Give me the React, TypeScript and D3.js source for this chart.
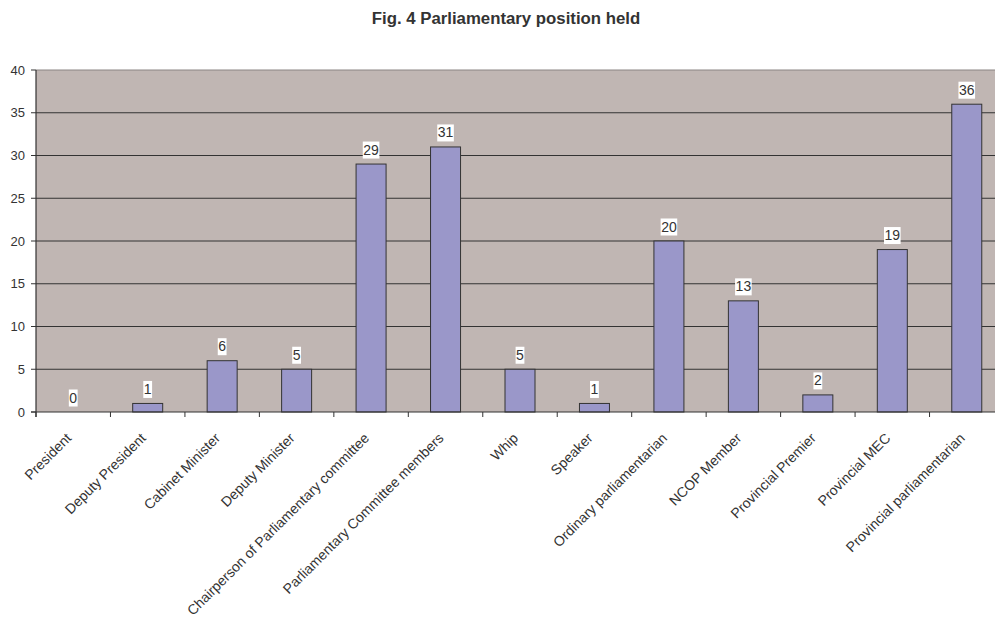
import React from "react";
import * as d3 from "d3";

const categories = [
  "President",
  "Deputy President",
  "Cabinet Minister",
  "Deputy Minister",
  "Chairperson of Parliamentary committee",
  "Parliamentary Committee members",
  "Whip",
  "Speaker",
  "Ordinary parliamentarian",
  "NCOP Member",
  "Provincial Premier",
  "Provincial MEC",
  "Provincial parliamentarian",
];
const values = [0, 1, 6, 5, 29, 31, 5, 1, 20, 13, 2, 19, 36];
const yTicks = [0, 5, 10, 15, 20, 25, 30, 35, 40];
const title = "Fig. 4 Parliamentary position held";

const W = 995;
const H = 618;
const left = 36;
const right = 1004;
const top = 70;
const bottom = 412;

export default function App() {
  const x = d3.scaleBand<string>().domain(categories).range([left, right]);
  const y = d3.scaleLinear().domain([0, 40]).range([bottom, top]);
  const bw = 30;
  const font = "Liberation Sans, Arial, sans-serif";
  return (
    <svg width={W} height={H} style={{ position: "absolute", left: 0, top: 0 }} fontFamily={font}>
      <text x={506} y={24} textAnchor="middle" fontSize={16.8} fontWeight="bold" fill="#333">
        {title}
      </text>
      <rect x={left} y={top} width={right - left} height={bottom - top} fill="#C0B6B3" />
      <line x1={left} x2={right} y1={top} y2={top} stroke="#8a8483" strokeWidth={1} />
      {yTicks.slice(1, -1).map((t) => (
        <line key={t} x1={left} x2={right} y1={y(t)} y2={y(t)} stroke="#333" strokeWidth={1} />
      ))}
      {values.map((v, i) => {
        const cx = (x(categories[i]) as number) + x.bandwidth() / 2;
        return v > 0 ? (
          <rect
            key={i}
            x={cx - bw / 2}
            y={y(v)}
            width={bw}
            height={bottom - y(v)}
            fill="#9A97C9"
            stroke="#333"
            strokeWidth={1}
          />
        ) : null;
      })}
      <line x1={left} x2={left} y1={top} y2={bottom + 5} stroke="#333" strokeWidth={1.2} />
      <line x1={left - 5} x2={right} y1={bottom} y2={bottom} stroke="#333" strokeWidth={1.2} />
      {yTicks.map((t) => (
        <g key={t}>
          <line x1={left - 5} x2={left} y1={y(t)} y2={y(t)} stroke="#333" />
          <text x={left - 11} y={y(t) + 4.5} textAnchor="end" fontSize={13} fill="#333">
            {t}
          </text>
        </g>
      ))}
      {categories.map((c, i) => {
        const bx = x(c) as number;
        return <line key={"t" + i} x1={bx} x2={bx} y1={bottom} y2={bottom + 5} stroke="#333" />;
      })}
      {categories.map((c, i) => {
        const cx = (x(c) as number) + x.bandwidth() / 2;
        return (
          <text
            key={"l" + i}
            transform={`translate(${cx - 1},${bottom + 27}) rotate(-45)`}
            textAnchor="end"
            fontSize={14}
            fill="#333"
          >
            {c}
          </text>
        );
      })}
      {values.map((v, i) => {
        const cx = (x(categories[i]) as number) + x.bandwidth() / 2;
        const w = String(v).length * 7.8 + 1;
        return (
          <g key={"v" + i}>
            <rect x={cx - w / 2} y={y(v) - 22.5} width={w} height={17} fill="#fff" />
            <text x={cx} y={y(v) - 9.5} textAnchor="middle" fontSize={14} fill="#333">
              {v}
            </text>
          </g>
        );
      })}
    </svg>
  );
}
